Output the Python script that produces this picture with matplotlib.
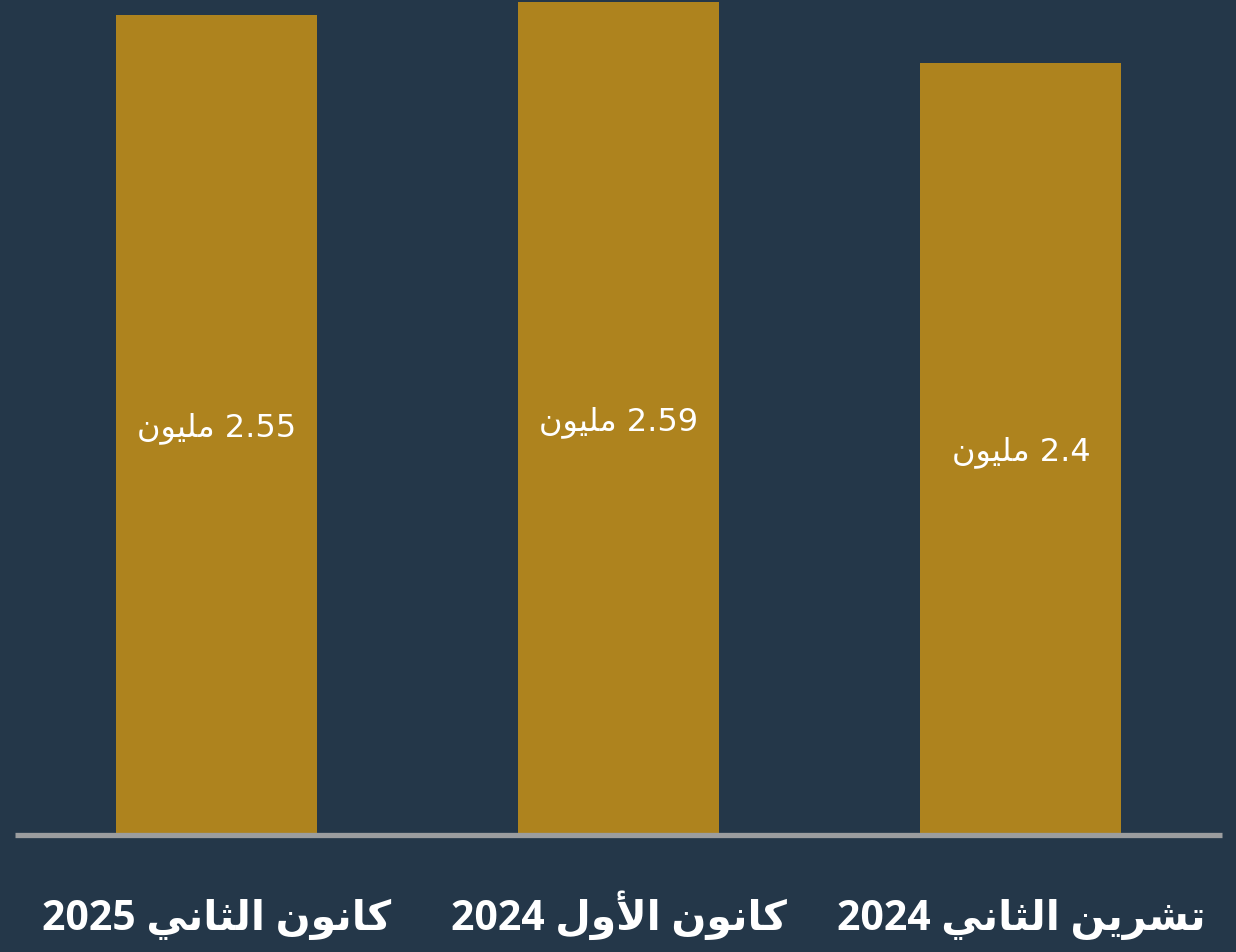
import matplotlib
matplotlib.use("Agg")
import matplotlib.pyplot as plt
import matplotlib.transforms as mtransforms

# data (Arabic, logical order)
months = ["تشرين الثاني", "كانون الأول", "كانون الثاني"]
years = ["2024", "2024", "2025"]
values = [2.4, 2.59, 2.55]
value_texts = ["2.4", "2.59", "2.55"]
unit = "مليون"

BG = "#243749"
BAR = "#ae831e"
LINE = "#9b9d9f"

# minimal Arabic shaping with presentation forms (matplotlib has no RTL shaping)
FORMS = {
    "ا": ("\uFE8D", "\uFE8E"),
    "أ": ("\uFE83", "\uFE84"),
    "ر": ("\uFEAD", "\uFEAE"),
    "و": ("\uFEED", "\uFEEE"),
    "ت": ("\uFE95", "\uFE96", "\uFE97", "\uFE98"),
    "ث": ("\uFE99", "\uFE9A", "\uFE9B", "\uFE9C"),
    "ش": ("\uFEB5", "\uFEB6", "\uFEB7", "\uFEB8"),
    "ك": ("\uFED9", "\uFEDA", "\uFEDB", "\uFEDC"),
    "ل": ("\uFEDD", "\uFEDE", "\uFEDF", "\uFEE0"),
    "م": ("\uFEE1", "\uFEE2", "\uFEE3", "\uFEE4"),
    "ن": ("\uFEE5", "\uFEE6", "\uFEE7", "\uFEE8"),
    "ي": ("\uFEF1", "\uFEF2", "\uFEF3", "\uFEF4"),
    "لا": ("\uFEFB", "\uFEFC"),
    "لأ": ("\uFEF7", "\uFEF8"),
}


def shape(text):
    toks = []
    i = 0
    while i < len(text):
        if text[i] == "ل" and i + 1 < len(text) and text[i + 1] in "اأ":
            toks.append(text[i:i + 2])
            i += 2
        else:
            toks.append(text[i])
            i += 1
    out = []
    for k, t in enumerate(toks):
        if t not in FORMS:
            out.append(t)
            continue
        f = FORMS[t]
        prev = toks[k - 1] if k > 0 else None
        nxt = toks[k + 1] if k + 1 < len(toks) else None
        jp = prev in FORMS and len(FORMS[prev]) == 4
        jn = len(f) == 4 and nxt in FORMS
        if jp and jn:
            out.append(f[3])
        elif jn:
            out.append(f[2])
        elif jp:
            out.append(f[1])
        else:
            out.append(f[0])
    return "".join(out)[::-1]


fig = plt.figure(figsize=(12.36, 9.52), dpi=100, facecolor=BG)
ax = fig.add_axes([15 / 1236, 117 / 952, 1207 / 1236, 835 / 952])
ax.set_facecolor(BG)

x = list(range(len(values)))
ax.bar(x, values, width=0.5, color=BAR, zorder=2)
ax.axhline(0, color=LINE, lw=3.8, zorder=3, clip_on=False, solid_capstyle="butt")

ax.set_xlim(2.5, -0.5)
ax.set_ylim(0, 2.596)
ax.axis("off")

for i, v in enumerate(values):
    ax.annotate(shape(unit) + " " + value_texts[i], xy=(i, v / 2), xytext=(0, -8.3),
                textcoords="offset points", ha="center", va="baseline",
                color="white", fontsize=23, family="DejaVu Sans")

fam = ["Open Sans", "DejaVu Sans"]
trans = mtransforms.blended_transform_factory(ax.transData, ax.transAxes)
for i in x:
    ax.text(i, -95 / 835, years[i] + " " + shape(months[i]), transform=trans,
            ha="center", va="baseline", color="white", fontsize=29.5,
            fontweight="bold", family=fam, clip_on=False)

fig.savefig("out.png", dpi=100, facecolor=BG)
